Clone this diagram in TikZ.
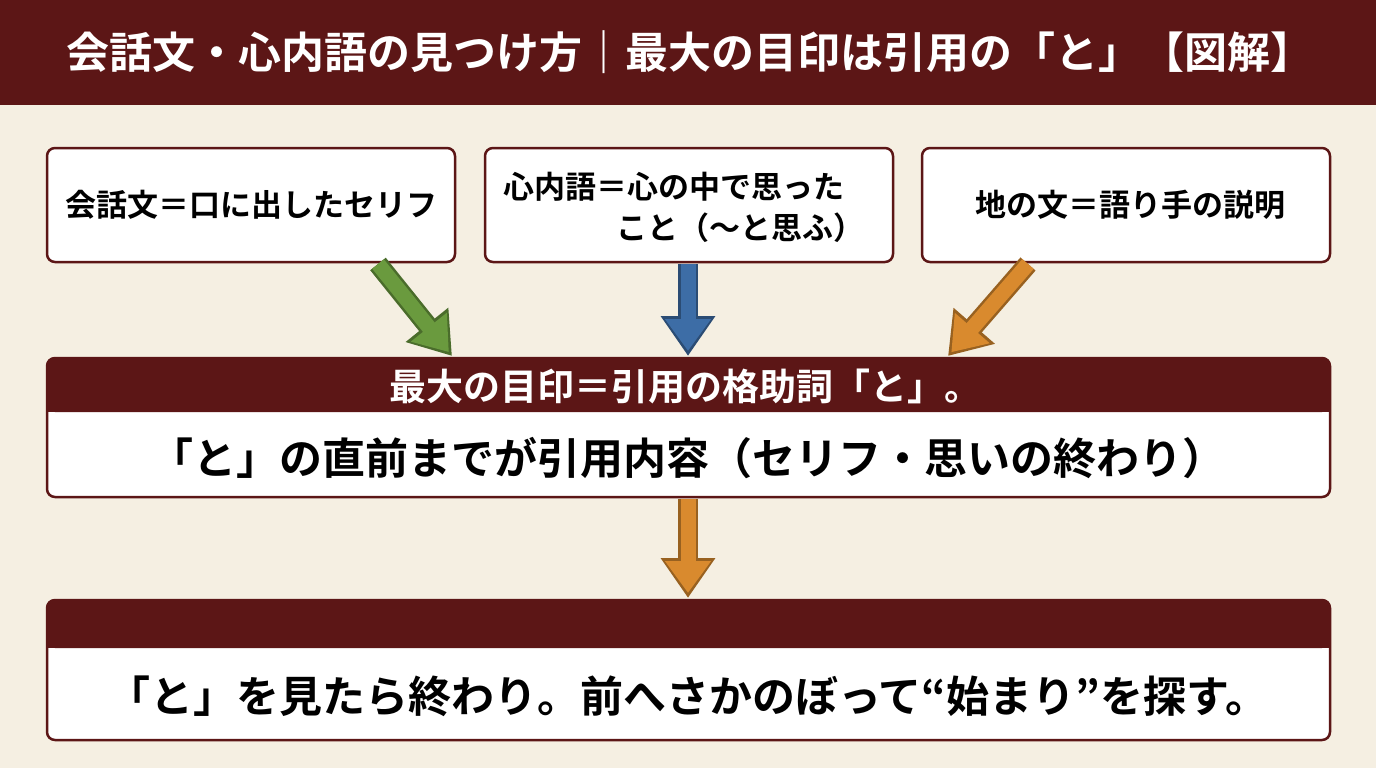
\documentclass[tikz,border=0pt]{standalone}
\usepackage{fontspec}
\setmainfont{Noto Sans CJK JP}[BoldFont={* Bold}]
\usetikzlibrary{arrows.meta}
\definecolor{maroon}{HTML}{5C1616}
\definecolor{paper}{HTML}{F5EFE2}
\definecolor{agreen}{HTML}{6A9A3E}
\definecolor{ablue}{HTML}{3D6DA6}
\definecolor{aorange}{HTML}{D98A2E}
\tikzset{
 box/.style={draw=maroon,line width=2.5pt,fill=white,rounded corners=8pt},
 txt/.style={font=\bfseries\fontsize{31}{36}\selectfont,text=black},
 big/.style={font=\bfseries\fontsize{43}{50}\selectfont,text=black},
 barr/.style={draw=#1!70!black,line width=20pt,-{Triangle[length=40pt,width=52pt]}},
 barin/.style={draw=#1,line width=15pt,-{Triangle[length=32pt,width=44pt]},shorten >=5pt}
}
\begin{document}
\begin{tikzpicture}[x=1pt,y=-1pt]
\useasboundingbox (0,0) rectangle (1376,768);
\fill[paper] (0,0) rectangle (1376,768);
\fill[maroon] (0,0) rectangle (105,105);
\fill[maroon] (0,0) rectangle (1376,105);
\node[font=\bfseries\fontsize{43}{48}\selectfont,text=white] (title) at (690,52) {会話文・心内語の見つけ方｜最大の目印は引用の「と」【図解】};
% top boxes
\draw[box] (47,148) rectangle (455,262);
\node[txt] (b1) at (251,205) {会話文＝口に出したセリフ};
\draw[box] (485,148) rectangle (893,262);
\node[txt,anchor=west] (b2a) at (500,187) {心内語＝心の中で思った};
\node[txt,anchor=east] (b2b) at (868,228) {こと（〜と思ふ）};
\draw[box] (922,148) rectangle (1330,262);
\node[txt] (b3) at (1130,205) {地の文＝語り手の説明};
% middle box
\draw[box] (47,358) rectangle (1330,497);
\fill[maroon,rounded corners=8pt] (47,358) rectangle (1330,412);
\fill[maroon] (47,395) rectangle (1330,412);
\node[font=\bfseries\fontsize{37}{42}\selectfont,text=white] (m1) at (685,386) {最大の目印＝引用の格助詞「と」。};
\node[big] (m2) at (688,458) {「と」の直前までが引用内容（セリフ・思いの終わり）};
% bottom box
\draw[box] (47,600) rectangle (1330,740);
\fill[maroon,rounded corners=8pt] (47,600) rectangle (1330,648);
\fill[maroon] (47,630) rectangle (1330,648);
\node[big] (bt) at (688,696) {「と」を見たら終わり。前へさかのぼって“始まり”を探す。};
% arrow endpoints
\coordinate (g0) at (378,264); \coordinate (g1) at (452,356);
\coordinate (u0) at (688,264); \coordinate (u1) at (688,356);
\coordinate (o0) at (1028,264); \coordinate (o1) at (948,356);
\coordinate (d0) at (688,499); \coordinate (d1) at (688,598);
\foreach \a/\b/\c in {g0/g1/agreen,u0/u1/ablue,o0/o1/aorange,d0/d1/aorange}{
 \draw[barr=\c] (\a) -- (\b);
 \draw[barin=\c] (\a) -- (\b);
}
\end{tikzpicture}
\end{document}
